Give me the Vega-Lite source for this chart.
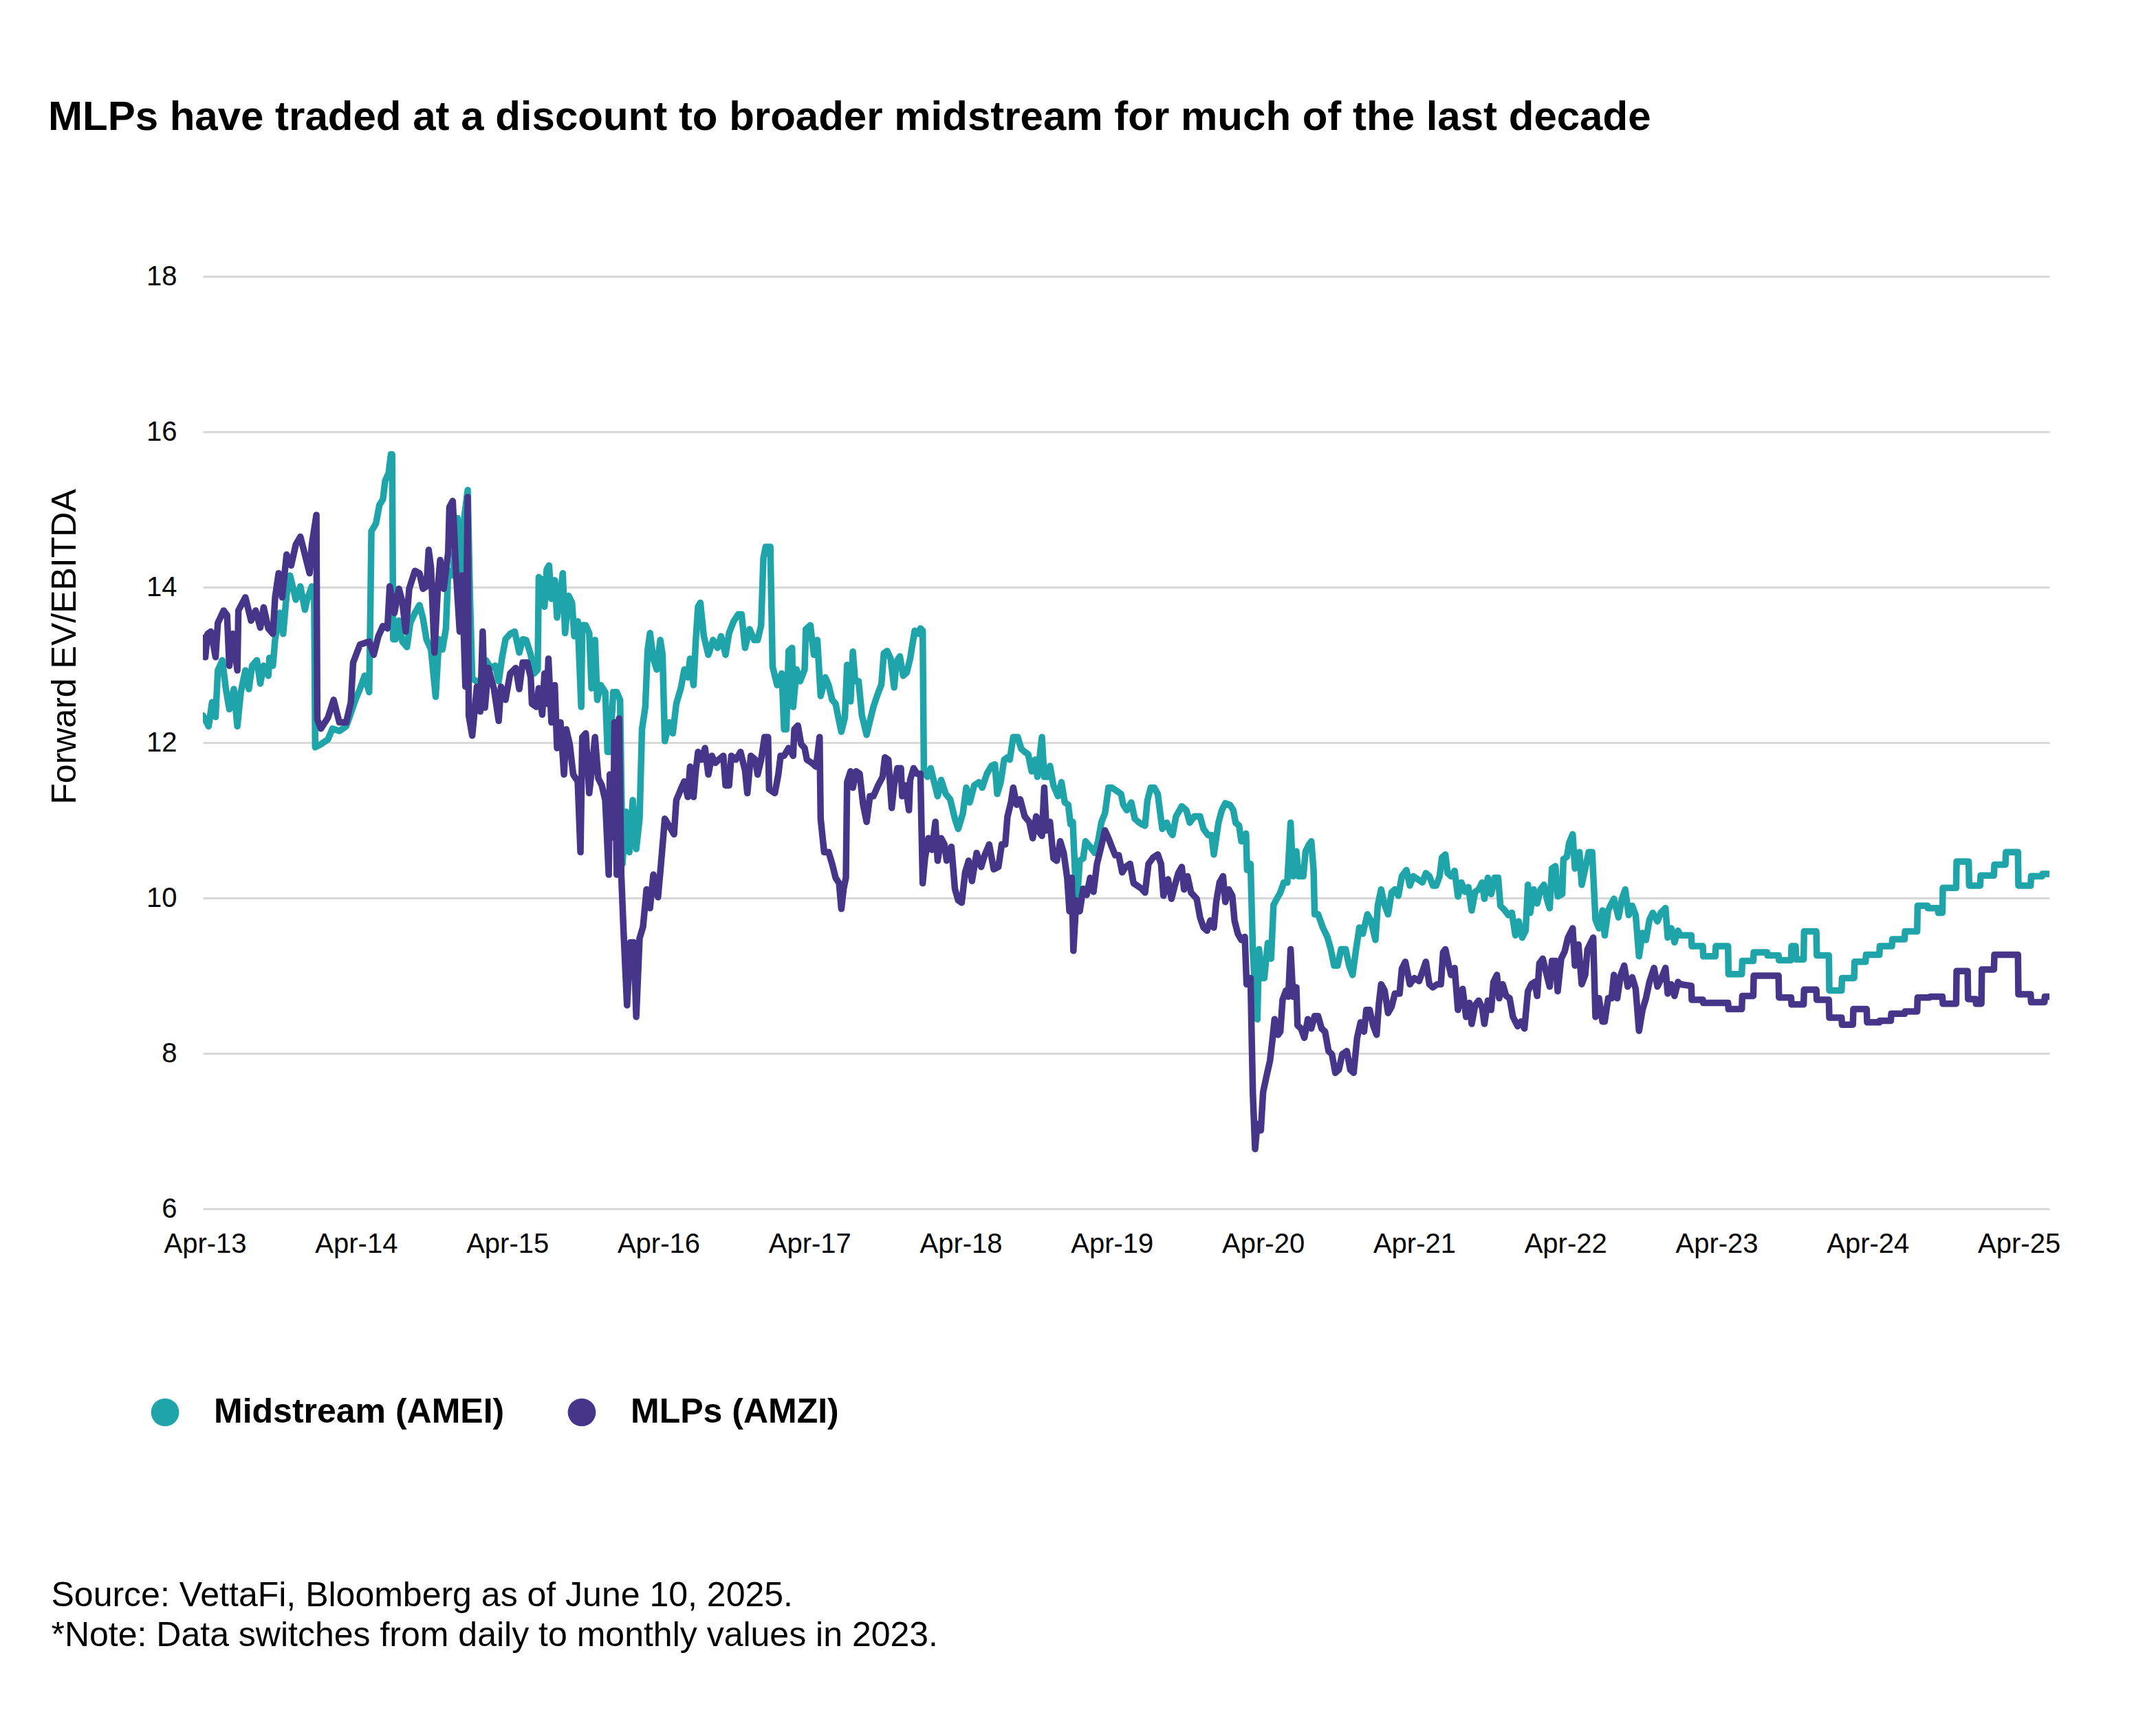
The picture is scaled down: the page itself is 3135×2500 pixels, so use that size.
{
"$schema": "https://vega.github.io/schema/vega-lite/v6.json",
"width": 2685, "height": 1356,
"autosize": {"type": "none"},
"padding": {"left": 295, "top": 402, "right": 155, "bottom": 742},
"background": "white",
"title": {"text": "MLPs have traded at a discount to broader midstream for much of the last decade", "anchor": "start", "frame": "group", "fontSize": 60, "fontWeight": "bold", "font": "Liberation Sans", "color": "#000000", "dx": -225, "offset": 120, "baseline": "bottom"},
"datasets": {
"mid": [
{"t":2013.236,"v":12.35},{"t":2013.274,"v":12.21},{"t":2013.297,"v":12.52},{"t":2013.320,"v":12.33},{"t":2013.335,"v":12.93},{"t":2013.365,"v":13.06},{"t":2013.388,"v":12.69},{"t":2013.411,"v":12.43},{"t":2013.441,"v":12.69},{"t":2013.464,"v":12.21},{"t":2013.487,"v":12.65},{"t":2013.517,"v":12.93},{"t":2013.540,"v":12.69},{"t":2013.562,"v":12.99},{"t":2013.593,"v":13.06},{"t":2013.616,"v":12.76},{"t":2013.638,"v":12.99},{"t":2013.669,"v":12.86},{"t":2013.676,"v":13.09},{"t":2013.699,"v":12.99},{"t":2013.714,"v":13.33},{"t":2013.744,"v":13.67},{"t":2013.767,"v":13.40},{"t":2013.790,"v":13.91},{"t":2013.813,"v":14.15},{"t":2013.851,"v":13.84},{"t":2013.881,"v":14.01},{"t":2013.911,"v":13.71},{"t":2013.926,"v":13.84},{"t":2013.957,"v":14.01},{"t":2013.972,"v":13.95},{"t":2013.979,"v":11.94},{"t":2014.017,"v":11.98},{"t":2014.063,"v":12.04},{"t":2014.093,"v":12.18},{"t":2014.139,"v":12.15},{"t":2014.184,"v":12.21},{"t":2014.215,"v":12.38},{"t":2014.245,"v":12.55},{"t":2014.275,"v":12.69},{"t":2014.306,"v":12.86},{"t":2014.336,"v":12.65},{"t":2014.343,"v":13.54},{"t":2014.351,"v":14.72},{"t":2014.381,"v":14.82},{"t":2014.404,"v":15.06},{"t":2014.427,"v":15.13},{"t":2014.442,"v":15.37},{"t":2014.465,"v":15.47},{"t":2014.480,"v":15.71},{"t":2014.488,"v":15.71},{"t":2014.495,"v":13.33},{"t":2014.510,"v":13.33},{"t":2014.533,"v":13.57},{"t":2014.556,"v":13.30},{"t":2014.586,"v":13.23},{"t":2014.608,"v":13.54},{"t":2014.639,"v":13.67},{"t":2014.669,"v":13.77},{"t":2014.692,"v":13.60},{"t":2014.715,"v":13.33},{"t":2014.745,"v":13.20},{"t":2014.776,"v":12.59},{"t":2014.798,"v":13.33},{"t":2014.821,"v":13.20},{"t":2014.844,"v":13.47},{"t":2014.859,"v":14.21},{"t":2014.889,"v":14.15},{"t":2014.920,"v":14.89},{"t":2014.942,"v":14.21},{"t":2014.965,"v":14.89},{"t":2014.988,"v":15.25},{"t":2015.003,"v":13.87},{"t":2015.018,"v":12.82},{"t":2015.049,"v":12.79},{"t":2015.087,"v":12.52},{"t":2015.109,"v":13.06},{"t":2015.140,"v":12.96},{"t":2015.170,"v":12.99},{"t":2015.193,"v":12.79},{"t":2015.215,"v":13.09},{"t":2015.238,"v":13.33},{"t":2015.269,"v":13.40},{"t":2015.299,"v":13.43},{"t":2015.329,"v":13.16},{"t":2015.352,"v":13.33},
{"t":2015.375,"v":13.32},{"t":2015.405,"v":13.13},{"t":2015.428,"v":12.89},{"t":2015.451,"v":12.94},{"t":2015.458,"v":14.13},{"t":2015.481,"v":14.09},{"t":2015.496,"v":13.75},{"t":2015.511,"v":14.23},{"t":2015.526,"v":14.28},{"t":2015.542,"v":13.85},{"t":2015.564,"v":14.09},{"t":2015.579,"v":13.61},{"t":2015.602,"v":13.94},{"t":2015.617,"v":14.18},{"t":2015.632,"v":13.41},{"t":2015.655,"v":13.89},{"t":2015.678,"v":13.80},{"t":2015.693,"v":13.37},{"t":2015.716,"v":13.56},{"t":2015.739,"v":12.46},{"t":2015.746,"v":13.51},{"t":2015.769,"v":13.51},{"t":2015.792,"v":13.41},{"t":2015.807,"v":12.70},{"t":2015.830,"v":13.32},{"t":2015.845,"v":12.55},{"t":2015.868,"v":12.74},{"t":2015.898,"v":12.65},{"t":2015.913,"v":11.88},{"t":2015.928,"v":11.88},{"t":2015.951,"v":12.65},{"t":2015.974,"v":12.65},{"t":2015.996,"v":12.55},{"t":2016.012,"v":10.44},{"t":2016.034,"v":11.11},{"t":2016.057,"v":10.59},{"t":2016.080,"v":11.26},{"t":2016.103,"v":10.63},{"t":2016.125,"v":11.02},{"t":2016.141,"v":12.17},{"t":2016.163,"v":12.46},{"t":2016.178,"v":13.18},{"t":2016.194,"v":13.41},{"t":2016.216,"v":13.08},{"t":2016.239,"v":12.94},{"t":2016.262,"v":13.32},{"t":2016.277,"v":13.13},{"t":2016.292,"v":12.02},{"t":2016.323,"v":12.26},{"t":2016.345,"v":12.12},{"t":2016.368,"v":12.50},{"t":2016.398,"v":12.70},{"t":2016.421,"v":12.94},{"t":2016.444,"v":12.84},{"t":2016.459,"v":13.08},{"t":2016.482,"v":12.74},{"t":2016.497,"v":13.32},{"t":2016.512,"v":13.75},{"t":2016.527,"v":13.80},{"t":2016.550,"v":13.37},{"t":2016.580,"v":13.13},{"t":2016.611,"v":13.32},{"t":2016.641,"v":13.22},{"t":2016.664,"v":13.37},{"t":2016.694,"v":13.13},{"t":2016.717,"v":13.41},{"t":2016.747,"v":13.56},{"t":2016.777,"v":13.65},{"t":2016.800,"v":13.65},{"t":2016.823,"v":13.22},{"t":2016.853,"v":13.46},{"t":2016.884,"v":13.32},{"t":2016.906,"v":13.32},{"t":2016.929,"v":13.51},{"t":2016.944,"v":14.37},{"t":2016.959,"v":14.52},{"t":2016.990,"v":14.52},{"t":2017.005,"v":12.98},{"t":2017.035,"v":12.74},{"t":2017.066,"v":12.89},{"t":2017.081,"v":12.17},{"t":2017.096,"v":12.17},{"t":2017.111,"v":13.18},{"t":2017.134,"v":13.22},{"t":2017.141,"v":12.46},{"t":2017.164,"v":12.94},{"t":2017.187,"v":12.79},{"t":2017.217,"v":12.94},{"t":2017.225,"v":13.46},{"t":2017.255,"v":13.51},{"t":2017.278,"v":13.13},{"t":2017.301,"v":13.32},{"t":2017.323,"v":12.60},{"t":2017.354,"v":12.84},{"t":2017.376,"v":12.74},{"t":2017.399,"v":12.55},
{"t":2017.422,"v":12.50},{"t":2017.437,"v":12.35},{"t":2017.460,"v":12.14},{"t":2017.483,"v":12.32},{"t":2017.498,"v":13.00},{"t":2017.521,"v":12.53},{"t":2017.536,"v":13.17},{"t":2017.551,"v":12.79},{"t":2017.574,"v":12.79},{"t":2017.596,"v":12.35},{"t":2017.627,"v":12.10},{"t":2017.649,"v":12.28},{"t":2017.672,"v":12.46},{"t":2017.703,"v":12.64},{"t":2017.725,"v":12.75},{"t":2017.741,"v":13.15},{"t":2017.763,"v":13.18},{"t":2017.786,"v":13.08},{"t":2017.809,"v":12.71},{"t":2017.824,"v":13.04},{"t":2017.847,"v":13.11},{"t":2017.869,"v":12.86},{"t":2017.892,"v":12.90},{"t":2017.915,"v":13.08},{"t":2017.930,"v":13.26},{"t":2017.945,"v":13.44},{"t":2017.968,"v":13.40},{"t":2017.983,"v":13.47},{"t":2017.998,"v":13.44},{"t":2018.006,"v":11.63},{"t":2018.029,"v":11.56},{"t":2018.051,"v":11.67},{"t":2018.074,"v":11.49},{"t":2018.097,"v":11.31},{"t":2018.120,"v":11.52},{"t":2018.150,"v":11.34},{"t":2018.180,"v":11.27},{"t":2018.211,"v":11.02},{"t":2018.233,"v":10.89},{"t":2018.264,"v":11.09},{"t":2018.286,"v":11.42},{"t":2018.309,"v":11.23},{"t":2018.339,"v":11.45},{"t":2018.370,"v":11.49},{"t":2018.392,"v":11.42},{"t":2018.423,"v":11.60},{"t":2018.453,"v":11.70},{"t":2018.476,"v":11.72},{"t":2018.491,"v":11.34},{"t":2018.514,"v":11.49},{"t":2018.537,"v":11.78},{"t":2018.559,"v":11.81},{"t":2018.574,"v":11.78},{"t":2018.597,"v":12.07},{"t":2018.627,"v":12.07},{"t":2018.650,"v":11.92},{"t":2018.673,"v":11.88},{"t":2018.696,"v":11.85},{"t":2018.719,"v":11.63},{"t":2018.741,"v":11.78},{"t":2018.757,"v":11.56},{"t":2018.787,"v":12.07},{"t":2018.802,"v":11.56},{"t":2018.825,"v":11.56},{"t":2018.840,"v":11.70},{"t":2018.863,"v":11.45},{"t":2018.893,"v":11.31},{"t":2018.916,"v":11.49},{"t":2018.938,"v":11.23},{"t":2018.961,"v":11.20},{"t":2018.976,"v":10.95},{"t":2018.991,"v":10.98},{"t":2019.006,"v":10.33},{"t":2019.022,"v":10.04},{"t":2019.037,"v":10.48},{"t":2019.060,"v":10.51},{"t":2019.075,"v":10.73},{"t":2019.106,"v":10.66},{"t":2019.136,"v":10.58},{"t":2019.158,"v":10.73},{"t":2019.181,"v":10.98},{"t":2019.204,"v":11.09},{"t":2019.227,"v":11.42},{"t":2019.249,"v":11.42},{"t":2019.280,"v":11.38},{"t":2019.310,"v":11.34},{"t":2019.325,"v":11.20},{"t":2019.348,"v":11.13},{"t":2019.378,"v":11.23},{"t":2019.401,"v":11.02},{"t":2019.424,"v":10.98},{"t":2019.446,"v":10.95},
{"t":2019.469,"v":10.93},{"t":2019.485,"v":11.26},{"t":2019.507,"v":11.42},{"t":2019.530,"v":11.42},{"t":2019.553,"v":11.34},{"t":2019.583,"v":10.89},{"t":2019.613,"v":10.97},{"t":2019.636,"v":10.85},{"t":2019.651,"v":10.81},{"t":2019.674,"v":11.05},{"t":2019.712,"v":11.18},{"t":2019.742,"v":11.13},{"t":2019.765,"v":10.97},{"t":2019.795,"v":11.05},{"t":2019.833,"v":11.05},{"t":2019.856,"v":10.89},{"t":2019.886,"v":10.81},{"t":2019.909,"v":10.81},{"t":2019.924,"v":10.56},{"t":2019.955,"v":10.97},{"t":2019.977,"v":11.13},{"t":2020.000,"v":11.22},{"t":2020.030,"v":11.20},{"t":2020.053,"v":11.13},{"t":2020.068,"v":10.97},{"t":2020.091,"v":10.93},{"t":2020.106,"v":10.73},{"t":2020.137,"v":10.83},{"t":2020.144,"v":10.36},{"t":2020.167,"v":10.44},{"t":2020.182,"v":9.34},{"t":2020.197,"v":8.81},{"t":2020.212,"v":8.44},{"t":2020.223,"v":9.34},{"t":2020.243,"v":8.97},{"t":2020.258,"v":8.97},{"t":2020.281,"v":9.42},{"t":2020.303,"v":9.22},{"t":2020.319,"v":9.91},{"t":2020.341,"v":9.99},{"t":2020.364,"v":10.07},{"t":2020.387,"v":10.20},{"t":2020.410,"v":10.20},{"t":2020.432,"v":10.97},{"t":2020.448,"v":10.28},{"t":2020.470,"v":10.60},{"t":2020.485,"v":10.28},{"t":2020.516,"v":10.28},{"t":2020.531,"v":10.60},{"t":2020.554,"v":10.69},{"t":2020.569,"v":10.73},{"t":2020.584,"v":10.36},{"t":2020.591,"v":9.79},{"t":2020.614,"v":9.79},{"t":2020.645,"v":9.62},{"t":2020.675,"v":9.50},{"t":2020.698,"v":9.34},{"t":2020.720,"v":9.13},{"t":2020.743,"v":9.13},{"t":2020.766,"v":9.34},{"t":2020.796,"v":9.34},{"t":2020.819,"v":9.13},{"t":2020.842,"v":9.01},{"t":2020.865,"v":9.34},{"t":2020.887,"v":9.62},{"t":2020.910,"v":9.54},{"t":2020.940,"v":9.79},{"t":2020.963,"v":9.71},{"t":2020.993,"v":9.46},{"t":2021.009,"v":9.91},{"t":2021.031,"v":10.11},{"t":2021.054,"v":9.91},{"t":2021.077,"v":9.79},{"t":2021.100,"v":10.07},{"t":2021.122,"v":10.11},{"t":2021.145,"v":10.03},{"t":2021.168,"v":10.28},{"t":2021.198,"v":10.36},{"t":2021.221,"v":10.16},{"t":2021.244,"v":10.28},{"t":2021.274,"v":10.24},{"t":2021.304,"v":10.20},{"t":2021.327,"v":10.32},{"t":2021.350,"v":10.28},{"t":2021.373,"v":10.16},{"t":2021.395,"v":10.16},{"t":2021.418,"v":10.28},{"t":2021.433,"v":10.52},{"t":2021.456,"v":10.56},{"t":2021.471,"v":10.32},{"t":2021.494,"v":10.28},
{"t":2021.517,"v":10.35},{"t":2021.539,"v":10.02},{"t":2021.562,"v":10.20},{"t":2021.585,"v":10.08},{"t":2021.608,"v":10.14},{"t":2021.630,"v":9.84},{"t":2021.653,"v":10.08},{"t":2021.676,"v":10.11},{"t":2021.699,"v":10.20},{"t":2021.714,"v":9.99},{"t":2021.737,"v":10.26},{"t":2021.759,"v":10.05},{"t":2021.782,"v":10.26},{"t":2021.805,"v":10.26},{"t":2021.820,"v":9.90},{"t":2021.850,"v":9.84},{"t":2021.873,"v":9.78},{"t":2021.896,"v":9.81},{"t":2021.919,"v":9.52},{"t":2021.941,"v":9.70},{"t":2021.964,"v":9.49},{"t":2021.987,"v":9.58},{"t":2022.002,"v":10.17},{"t":2022.017,"v":9.81},{"t":2022.040,"v":10.11},{"t":2022.063,"v":9.93},{"t":2022.085,"v":10.11},{"t":2022.108,"v":10.17},{"t":2022.131,"v":9.96},{"t":2022.146,"v":9.87},{"t":2022.161,"v":10.38},{"t":2022.184,"v":10.41},{"t":2022.199,"v":10.02},{"t":2022.229,"v":10.05},{"t":2022.237,"v":10.50},{"t":2022.260,"v":10.53},{"t":2022.275,"v":10.71},{"t":2022.298,"v":10.82},{"t":2022.313,"v":10.38},{"t":2022.343,"v":10.59},{"t":2022.358,"v":10.17},{"t":2022.381,"v":10.38},{"t":2022.404,"v":10.59},{"t":2022.427,"v":10.59},{"t":2022.449,"v":9.72},{"t":2022.472,"v":9.61},{"t":2022.495,"v":9.84},{"t":2022.510,"v":9.52},{"t":2022.533,"v":9.84},{"t":2022.555,"v":9.93},{"t":2022.571,"v":9.99},{"t":2022.601,"v":9.75},{"t":2022.624,"v":9.99},{"t":2022.646,"v":10.11},{"t":2022.669,"v":9.78},{"t":2022.692,"v":9.90},{"t":2022.715,"v":9.78},{"t":2022.737,"v":9.25},{"t":2022.760,"v":9.55},{"t":2022.783,"v":9.46},{"t":2022.806,"v":9.72},{"t":2022.828,"v":9.81},{"t":2022.859,"v":9.70},{"t":2022.881,"v":9.81},{"t":2022.912,"v":9.87},{"t":2022.927,"v":9.49},{"t":2022.950,"v":9.61},{"t":2022.972,"v":9.43},{"t":2022.995,"v":9.58},{"t":2023.010,"v":9.52},
{"t":2023.083,"v":9.52},{"t":2023.086,"v":9.38},{"t":2023.159,"v":9.38},{"t":2023.162,"v":9.25},{"t":2023.242,"v":9.25},{"t":2023.245,"v":9.38},{"t":2023.326,"v":9.38},{"t":2023.329,"v":9.02},{"t":2023.417,"v":9.02},{"t":2023.420,"v":9.19},{"t":2023.493,"v":9.19},{"t":2023.496,"v":9.30},{"t":2023.584,"v":9.30},{"t":2023.587,"v":9.26},{"t":2023.660,"v":9.26},{"t":2023.663,"v":9.20},{"t":2023.743,"v":9.20},{"t":2023.746,"v":9.38},{"t":2023.773,"v":9.38},{"t":2023.776,"v":9.21},{"t":2023.826,"v":9.21},{"t":2023.829,"v":9.57},{"t":2023.910,"v":9.57},{"t":2023.913,"v":9.26},{"t":2023.993,"v":9.26},{"t":2023.996,"v":8.81},{"t":2024.077,"v":8.81},{"t":2024.080,"v":8.97},{"t":2024.160,"v":8.97},{"t":2024.163,"v":9.18},{"t":2024.236,"v":9.18},{"t":2024.239,"v":9.27},{"t":2024.327,"v":9.27},{"t":2024.330,"v":9.38},{"t":2024.410,"v":9.38},{"t":2024.413,"v":9.47},{"t":2024.494,"v":9.47},{"t":2024.497,"v":9.57},{"t":2024.577,"v":9.57},{"t":2024.580,"v":9.90},{"t":2024.645,"v":9.90},{"t":2024.648,"v":9.87},{"t":2024.713,"v":9.87},{"t":2024.717,"v":9.81},{"t":2024.744,"v":9.81},{"t":2024.747,"v":10.13},{"t":2024.835,"v":10.13},{"t":2024.838,"v":10.47},{"t":2024.918,"v":10.47},{"t":2024.921,"v":10.16},{"t":2024.994,"v":10.16},{"t":2024.997,"v":10.29},{"t":2025.085,"v":10.29},{"t":2025.088,"v":10.43},{"t":2025.161,"v":10.43},{"t":2025.164,"v":10.59},{"t":2025.244,"v":10.59},{"t":2025.247,"v":10.16},{"t":2025.328,"v":10.16},{"t":2025.331,"v":10.28},{"t":2025.403,"v":10.28},{"t":2025.406,"v":10.31},{"t":2025.452,"v":10.31}
],
"mlp": [
{"t":2013.236,"v":13.35},{"t":2013.252,"v":13.10},{"t":2013.267,"v":13.40},{"t":2013.289,"v":13.43},{"t":2013.320,"v":13.10},{"t":2013.335,"v":13.54},{"t":2013.373,"v":13.70},{"t":2013.396,"v":13.64},{"t":2013.411,"v":12.99},{"t":2013.434,"v":13.40},{"t":2013.464,"v":12.93},{"t":2013.471,"v":13.70},{"t":2013.517,"v":13.87},{"t":2013.555,"v":13.57},{"t":2013.585,"v":13.70},{"t":2013.616,"v":13.48},{"t":2013.638,"v":13.74},{"t":2013.669,"v":13.47},{"t":2013.699,"v":13.40},{"t":2013.714,"v":13.87},{"t":2013.737,"v":14.18},{"t":2013.760,"v":13.87},{"t":2013.790,"v":14.42},{"t":2013.820,"v":14.28},{"t":2013.851,"v":14.55},{"t":2013.881,"v":14.65},{"t":2013.911,"v":14.42},{"t":2013.942,"v":14.18},{"t":2013.957,"v":14.55},{"t":2013.987,"v":14.93},{"t":2013.993,"v":12.30},{"t":2014.017,"v":12.18},{"t":2014.063,"v":12.32},{"t":2014.101,"v":12.55},{"t":2014.139,"v":12.26},{"t":2014.184,"v":12.26},{"t":2014.215,"v":12.52},{"t":2014.230,"v":13.03},{"t":2014.275,"v":13.26},{"t":2014.336,"v":13.30},{"t":2014.366,"v":13.13},{"t":2014.397,"v":13.37},{"t":2014.427,"v":13.50},{"t":2014.457,"v":13.47},{"t":2014.472,"v":14.01},{"t":2014.503,"v":13.67},{"t":2014.533,"v":13.98},{"t":2014.556,"v":13.81},{"t":2014.578,"v":13.43},{"t":2014.601,"v":13.98},{"t":2014.639,"v":14.21},{"t":2014.669,"v":14.18},{"t":2014.692,"v":13.98},{"t":2014.715,"v":14.01},{"t":2014.730,"v":14.48},{"t":2014.745,"v":14.25},{"t":2014.768,"v":13.16},{"t":2014.791,"v":14.01},{"t":2014.806,"v":14.35},{"t":2014.829,"v":13.98},{"t":2014.859,"v":14.45},{"t":2014.867,"v":15.03},{"t":2014.889,"v":15.11},{"t":2014.912,"v":14.15},{"t":2014.935,"v":13.43},{"t":2014.950,"v":14.15},{"t":2014.973,"v":12.72},{"t":2014.988,"v":15.16},{"t":2014.995,"v":12.35},{"t":2015.018,"v":12.09},{"t":2015.049,"v":12.72},{"t":2015.071,"v":12.40},{"t":2015.087,"v":13.43},{"t":2015.102,"v":12.45},{"t":2015.124,"v":12.96},{"t":2015.162,"v":12.69},{"t":2015.193,"v":12.28},{"t":2015.208,"v":12.72},{"t":2015.238,"v":12.55},{"t":2015.269,"v":12.89},{"t":2015.306,"v":12.96},{"t":2015.329,"v":12.69},{"t":2015.352,"v":13.03},
{"t":2015.382,"v":13.03},{"t":2015.405,"v":12.84},{"t":2015.413,"v":12.50},{"t":2015.443,"v":12.46},{"t":2015.458,"v":12.70},{"t":2015.481,"v":12.36},{"t":2015.496,"v":12.89},{"t":2015.511,"v":12.50},{"t":2015.522,"v":13.08},{"t":2015.542,"v":12.26},{"t":2015.564,"v":12.74},{"t":2015.579,"v":11.93},{"t":2015.602,"v":12.26},{"t":2015.625,"v":11.59},{"t":2015.640,"v":12.17},{"t":2015.663,"v":11.98},{"t":2015.686,"v":11.59},{"t":2015.716,"v":11.50},{"t":2015.734,"v":10.59},{"t":2015.746,"v":12.07},{"t":2015.769,"v":12.12},{"t":2015.792,"v":11.35},{"t":2015.814,"v":11.74},{"t":2015.830,"v":12.07},{"t":2015.852,"v":11.54},{"t":2015.875,"v":11.45},{"t":2015.898,"v":11.26},{"t":2015.921,"v":10.30},{"t":2015.928,"v":11.59},{"t":2015.951,"v":10.78},{"t":2015.959,"v":12.26},{"t":2015.974,"v":10.30},{"t":2015.989,"v":12.31},{"t":2016.004,"v":10.30},{"t":2016.019,"v":9.58},{"t":2016.042,"v":8.62},{"t":2016.065,"v":9.43},{"t":2016.087,"v":9.43},{"t":2016.103,"v":8.47},{"t":2016.125,"v":9.48},{"t":2016.148,"v":9.63},{"t":2016.171,"v":10.11},{"t":2016.194,"v":9.87},{"t":2016.216,"v":10.30},{"t":2016.247,"v":10.01},{"t":2016.269,"v":10.49},{"t":2016.292,"v":11.02},{"t":2016.323,"v":10.92},{"t":2016.353,"v":10.82},{"t":2016.368,"v":11.26},{"t":2016.398,"v":11.40},{"t":2016.421,"v":11.50},{"t":2016.444,"v":11.30},{"t":2016.459,"v":11.69},{"t":2016.482,"v":11.30},{"t":2016.497,"v":11.64},{"t":2016.512,"v":11.88},{"t":2016.535,"v":11.78},{"t":2016.558,"v":11.93},{"t":2016.580,"v":11.59},{"t":2016.603,"v":11.83},{"t":2016.626,"v":11.74},{"t":2016.649,"v":11.78},{"t":2016.679,"v":11.83},{"t":2016.694,"v":11.45},{"t":2016.717,"v":11.45},{"t":2016.732,"v":11.83},{"t":2016.762,"v":11.78},{"t":2016.793,"v":11.88},{"t":2016.823,"v":11.64},{"t":2016.838,"v":11.35},{"t":2016.861,"v":11.83},{"t":2016.891,"v":11.78},{"t":2016.906,"v":11.59},{"t":2016.929,"v":11.78},{"t":2016.952,"v":12.07},{"t":2016.975,"v":12.07},{"t":2016.982,"v":11.40},{"t":2017.020,"v":11.35},{"t":2017.043,"v":11.59},{"t":2017.058,"v":11.83},{"t":2017.081,"v":11.83},{"t":2017.111,"v":11.93},{"t":2017.141,"v":11.83},{"t":2017.149,"v":12.17},{"t":2017.172,"v":12.22},{"t":2017.194,"v":11.98},{"t":2017.217,"v":11.93},{"t":2017.232,"v":11.78},{"t":2017.263,"v":11.74},{"t":2017.293,"v":11.69},{"t":2017.316,"v":12.07},{"t":2017.323,"v":11.02},{"t":2017.346,"v":10.59},{"t":2017.376,"v":10.59},{"t":2017.399,"v":10.44},
{"t":2017.422,"v":10.26},{"t":2017.445,"v":10.19},{"t":2017.460,"v":9.86},{"t":2017.475,"v":10.12},{"t":2017.490,"v":10.26},{"t":2017.498,"v":11.49},{"t":2017.521,"v":11.63},{"t":2017.536,"v":11.42},{"t":2017.558,"v":11.63},{"t":2017.581,"v":11.60},{"t":2017.604,"v":11.20},{"t":2017.627,"v":10.98},{"t":2017.649,"v":11.31},{"t":2017.672,"v":11.31},{"t":2017.703,"v":11.45},{"t":2017.733,"v":11.56},{"t":2017.748,"v":11.81},{"t":2017.771,"v":11.78},{"t":2017.793,"v":11.16},{"t":2017.809,"v":11.45},{"t":2017.831,"v":11.67},{"t":2017.854,"v":11.67},{"t":2017.862,"v":11.31},{"t":2017.884,"v":11.45},{"t":2017.907,"v":11.13},{"t":2017.915,"v":11.52},{"t":2017.938,"v":11.67},{"t":2017.960,"v":11.60},{"t":2017.983,"v":11.60},{"t":2017.998,"v":10.19},{"t":2018.013,"v":10.51},{"t":2018.036,"v":10.77},{"t":2018.059,"v":10.62},{"t":2018.082,"v":10.98},{"t":2018.097,"v":10.48},{"t":2018.120,"v":10.77},{"t":2018.142,"v":10.69},{"t":2018.157,"v":10.48},{"t":2018.188,"v":10.66},{"t":2018.211,"v":10.12},{"t":2018.233,"v":9.97},{"t":2018.256,"v":9.94},{"t":2018.279,"v":10.33},{"t":2018.302,"v":10.48},{"t":2018.324,"v":10.22},{"t":2018.355,"v":10.58},{"t":2018.385,"v":10.40},{"t":2018.408,"v":10.55},{"t":2018.438,"v":10.69},{"t":2018.468,"v":10.37},{"t":2018.499,"v":10.40},{"t":2018.521,"v":10.69},{"t":2018.544,"v":10.69},{"t":2018.559,"v":11.05},{"t":2018.582,"v":11.23},{"t":2018.597,"v":11.42},{"t":2018.620,"v":11.20},{"t":2018.643,"v":11.27},{"t":2018.673,"v":11.05},{"t":2018.703,"v":10.98},{"t":2018.726,"v":10.77},{"t":2018.749,"v":11.05},{"t":2018.772,"v":10.84},{"t":2018.787,"v":10.80},{"t":2018.802,"v":11.42},{"t":2018.817,"v":10.87},{"t":2018.840,"v":10.98},{"t":2018.863,"v":10.51},{"t":2018.885,"v":10.48},{"t":2018.908,"v":10.73},{"t":2018.931,"v":10.58},{"t":2018.954,"v":10.26},{"t":2018.969,"v":9.83},{"t":2018.984,"v":10.26},{"t":2018.995,"v":9.32},{"t":2019.014,"v":9.97},{"t":2019.037,"v":9.83},{"t":2019.060,"v":10.12},{"t":2019.083,"v":10.04},{"t":2019.106,"v":10.26},{"t":2019.128,"v":10.08},{"t":2019.151,"v":10.44},{"t":2019.174,"v":10.62},{"t":2019.204,"v":10.87},{"t":2019.227,"v":10.77},{"t":2019.249,"v":10.66},{"t":2019.272,"v":10.55},{"t":2019.295,"v":10.55},{"t":2019.318,"v":10.33},{"t":2019.340,"v":10.40},{"t":2019.370,"v":10.44},{"t":2019.393,"v":10.19},{"t":2019.424,"v":10.15},{"t":2019.446,"v":10.12},
{"t":2019.469,"v":10.07},{"t":2019.492,"v":10.44},{"t":2019.522,"v":10.52},{"t":2019.553,"v":10.56},{"t":2019.575,"v":10.44},{"t":2019.591,"v":10.03},{"t":2019.621,"v":10.24},{"t":2019.644,"v":9.99},{"t":2019.666,"v":10.16},{"t":2019.689,"v":10.32},{"t":2019.712,"v":10.40},{"t":2019.727,"v":10.11},{"t":2019.750,"v":10.28},{"t":2019.773,"v":10.07},{"t":2019.811,"v":9.99},{"t":2019.833,"v":9.75},{"t":2019.856,"v":9.62},{"t":2019.879,"v":9.58},{"t":2019.901,"v":9.71},{"t":2019.924,"v":9.62},{"t":2019.940,"v":9.95},{"t":2019.962,"v":10.20},{"t":2019.985,"v":10.28},{"t":2020.000,"v":9.95},{"t":2020.023,"v":10.11},{"t":2020.046,"v":10.03},{"t":2020.061,"v":9.71},{"t":2020.083,"v":9.54},{"t":2020.106,"v":9.46},{"t":2020.129,"v":9.50},{"t":2020.141,"v":8.89},{"t":2020.167,"v":8.97},{"t":2020.182,"v":7.50},{"t":2020.197,"v":6.77},{"t":2020.212,"v":7.09},{"t":2020.235,"v":7.01},{"t":2020.250,"v":7.50},{"t":2020.273,"v":7.71},{"t":2020.296,"v":7.91},{"t":2020.311,"v":8.16},{"t":2020.326,"v":8.44},{"t":2020.349,"v":8.24},{"t":2020.364,"v":8.28},{"t":2020.379,"v":8.69},{"t":2020.402,"v":8.81},{"t":2020.417,"v":8.73},{"t":2020.432,"v":9.34},{"t":2020.448,"v":8.73},{"t":2020.470,"v":8.85},{"t":2020.478,"v":8.36},{"t":2020.501,"v":8.32},{"t":2020.523,"v":8.20},{"t":2020.546,"v":8.44},{"t":2020.569,"v":8.32},{"t":2020.591,"v":8.48},{"t":2020.614,"v":8.48},{"t":2020.637,"v":8.32},{"t":2020.660,"v":8.28},{"t":2020.683,"v":8.03},{"t":2020.705,"v":7.99},{"t":2020.728,"v":7.75},{"t":2020.751,"v":7.79},{"t":2020.774,"v":7.99},{"t":2020.804,"v":8.03},{"t":2020.827,"v":7.79},{"t":2020.849,"v":7.75},{"t":2020.872,"v":8.20},{"t":2020.895,"v":8.40},{"t":2020.918,"v":8.28},{"t":2020.933,"v":8.56},{"t":2020.955,"v":8.56},{"t":2020.978,"v":8.36},{"t":2021.001,"v":8.24},{"t":2021.016,"v":8.64},{"t":2021.031,"v":8.89},{"t":2021.054,"v":8.81},{"t":2021.077,"v":8.52},{"t":2021.100,"v":8.60},{"t":2021.122,"v":8.77},{"t":2021.153,"v":8.77},{"t":2021.168,"v":9.09},{"t":2021.191,"v":9.18},{"t":2021.221,"v":8.89},{"t":2021.251,"v":8.97},{"t":2021.282,"v":8.93},{"t":2021.304,"v":9.05},{"t":2021.327,"v":9.18},{"t":2021.350,"v":8.89},{"t":2021.373,"v":8.85},{"t":2021.403,"v":8.89},{"t":2021.426,"v":8.89},{"t":2021.441,"v":9.30},{"t":2021.456,"v":9.34},{"t":2021.479,"v":9.13},{"t":2021.494,"v":9.01},
{"t":2021.517,"v":9.10},{"t":2021.539,"v":8.56},{"t":2021.570,"v":8.83},{"t":2021.593,"v":8.47},{"t":2021.615,"v":8.65},{"t":2021.630,"v":8.38},{"t":2021.653,"v":8.62},{"t":2021.676,"v":8.68},{"t":2021.699,"v":8.59},{"t":2021.714,"v":8.38},{"t":2021.737,"v":8.68},{"t":2021.759,"v":8.56},{"t":2021.774,"v":8.92},{"t":2021.797,"v":9.01},{"t":2021.812,"v":8.71},{"t":2021.835,"v":8.89},{"t":2021.858,"v":8.74},{"t":2021.881,"v":8.71},{"t":2021.903,"v":8.47},{"t":2021.934,"v":8.35},{"t":2021.956,"v":8.41},{"t":2021.979,"v":8.32},{"t":2022.002,"v":8.80},{"t":2022.025,"v":8.89},{"t":2022.047,"v":8.92},{"t":2022.063,"v":8.74},{"t":2022.078,"v":9.16},{"t":2022.100,"v":9.22},{"t":2022.123,"v":9.04},{"t":2022.146,"v":8.86},{"t":2022.161,"v":9.19},{"t":2022.184,"v":9.19},{"t":2022.199,"v":8.80},{"t":2022.222,"v":9.22},{"t":2022.245,"v":9.31},{"t":2022.267,"v":9.49},{"t":2022.298,"v":9.61},{"t":2022.313,"v":9.13},{"t":2022.336,"v":9.40},{"t":2022.358,"v":8.89},{"t":2022.381,"v":9.01},{"t":2022.396,"v":9.34},{"t":2022.419,"v":9.43},{"t":2022.434,"v":9.49},{"t":2022.449,"v":8.47},{"t":2022.472,"v":8.71},{"t":2022.495,"v":8.41},{"t":2022.510,"v":8.41},{"t":2022.533,"v":8.71},{"t":2022.555,"v":8.71},{"t":2022.571,"v":9.01},{"t":2022.593,"v":8.71},{"t":2022.616,"v":9.01},{"t":2022.639,"v":9.13},{"t":2022.662,"v":8.86},{"t":2022.692,"v":8.98},{"t":2022.715,"v":8.83},{"t":2022.737,"v":8.29},{"t":2022.760,"v":8.56},{"t":2022.783,"v":8.71},{"t":2022.806,"v":8.92},{"t":2022.836,"v":9.10},{"t":2022.859,"v":8.86},{"t":2022.881,"v":8.95},{"t":2022.912,"v":9.10},{"t":2022.927,"v":8.77},{"t":2022.950,"v":8.89},{"t":2022.972,"v":8.74},{"t":2022.995,"v":8.92},{"t":2023.010,"v":8.89},
{"t":2023.083,"v":8.87},{"t":2023.086,"v":8.69},{"t":2023.159,"v":8.69},{"t":2023.162,"v":8.65},{"t":2023.326,"v":8.65},{"t":2023.329,"v":8.57},{"t":2023.417,"v":8.57},{"t":2023.420,"v":8.74},{"t":2023.493,"v":8.74},{"t":2023.496,"v":9.00},{"t":2023.660,"v":9.00},{"t":2023.663,"v":8.72},{"t":2023.743,"v":8.72},{"t":2023.746,"v":8.63},{"t":2023.826,"v":8.63},{"t":2023.829,"v":8.82},{"t":2023.910,"v":8.82},{"t":2023.913,"v":8.69},{"t":2023.993,"v":8.69},{"t":2023.996,"v":8.46},{"t":2024.077,"v":8.46},{"t":2024.080,"v":8.37},{"t":2024.152,"v":8.37},{"t":2024.155,"v":8.57},{"t":2024.243,"v":8.57},{"t":2024.246,"v":8.40},{"t":2024.327,"v":8.40},{"t":2024.330,"v":8.42},{"t":2024.403,"v":8.42},{"t":2024.406,"v":8.51},{"t":2024.494,"v":8.51},{"t":2024.497,"v":8.54},{"t":2024.577,"v":8.54},{"t":2024.580,"v":8.72},{"t":2024.660,"v":8.72},{"t":2024.663,"v":8.73},{"t":2024.744,"v":8.73},{"t":2024.747,"v":8.64},{"t":2024.835,"v":8.64},{"t":2024.838,"v":9.06},{"t":2024.911,"v":9.06},{"t":2024.914,"v":8.70},{"t":2024.964,"v":8.70},{"t":2024.967,"v":8.64},{"t":2025.002,"v":8.64},{"t":2025.005,"v":9.08},{"t":2025.085,"v":9.08},{"t":2025.088,"v":9.27},{"t":2025.244,"v":9.27},{"t":2025.247,"v":8.76},{"t":2025.328,"v":8.76},{"t":2025.331,"v":8.66},{"t":2025.419,"v":8.66},{"t":2025.422,"v":8.73},{"t":2025.452,"v":8.73}
]
},
"encoding": {
"x": {"field": "t", "type": "quantitative", "scale": {"domain": [2013.236, 2025.452], "nice": false, "zero": false},
  "axis": {"values": [2013.25,2014.25,2015.25,2016.25,2017.25,2018.25,2019.25,2020.25,2021.25,2022.25,2023.25,2024.25,2025.25],
    "labelExpr": "'Apr-' + format(floor(datum.value) % 100, 'd')",
    "grid": false, "domain": false, "ticks": false, "labelFontSize": 40, "labelColor": "#000000", "labelPadding": 31, "labelFlush": false, "labelOverlap": false, "labelFont": "Liberation Sans",
    "title": ["Source: VettaFi, Bloomberg as of June 10, 2025.", "*Note: Data switches from daily to monthly values in 2023."],
    "titleFont": "Liberation Sans", "titleFontSize": 50, "titleFontWeight": "normal", "titleColor": "#000000", "titleX": -221, "titleY": 577, "titleAlign": "left", "titleAnchor": "start", "titleBaseline": "alphabetic", "titleLineHeight": 58, "titleLimit": 3000}},
"y": {"field": "v", "type": "quantitative", "scale": {"domain": [6, 18], "nice": false, "zero": false},
  "axis": {"values": [6,8,10,12,14,16,18], "grid": true, "gridColor": "#d9d9d9", "gridWidth": 3, "domain": false, "ticks": false, "labelFontSize": 40, "labelColor": "#000000", "labelPadding": 38, "labelFont": "Liberation Sans",
    "title": "Forward EV/EBITDA", "titleFont": "Liberation Sans", "titleFontSize": 50, "titleFontWeight": "normal", "titleColor": "#000000", "titleX": -201, "titleY": 538, "titleAlign": "center", "titleBaseline": "middle"}}
},
"layer": [
{"data": {"name": "mid"}, "mark": {"type": "line", "strokeWidth": 9.5, "strokeJoin": "round", "strokeCap": "round", "clip": true},
 "encoding": {"color": {"datum": "Midstream (AMEI)", "type": "nominal", "scale": {"domain": ["Midstream (AMEI)", "MLPs (AMZI)"], "range": ["#1FA5A9", "#46368A"]},
   "legend": {"orient": "none", "legendX": -80, "legendY": 1627, "direction": "horizontal", "title": null, "symbolType": "circle", "symbolSize": 1660, "symbolStrokeWidth": 0, "labelFontSize": 50, "labelFontWeight": "bold", "labelFont": "Liberation Sans", "labelColor": "#000000", "labelLimit": 1000, "labelOffset": 46, "columnPadding": 87, "padding": 0,
     "encode": {"symbols": {"update": {"fill": {"scale": "color", "field": "value"}, "opacity": {"value": 1}}}}}}}},
{"data": {"name": "mlp"}, "mark": {"type": "line", "strokeWidth": 9.5, "strokeJoin": "round", "strokeCap": "round", "clip": true},
 "encoding": {"color": {"datum": "MLPs (AMZI)", "type": "nominal"}}}
],
"config": {"font": "Liberation Sans", "view": {"stroke": null}}
}
